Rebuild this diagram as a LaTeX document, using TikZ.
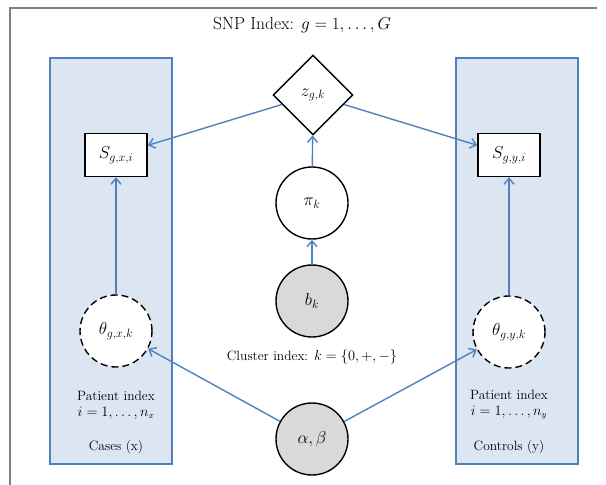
\documentclass[tikz,border=0pt]{standalone}
\usetikzlibrary{shapes.geometric,arrows.meta}
\definecolor{plateblue}{RGB}{220,230,242}
\definecolor{lineblue}{RGB}{79,129,189}
\definecolor{nodegray}{RGB}{217,217,217}
\definecolor{framegray}{RGB}{128,128,128}
\begin{document}
\begin{tikzpicture}[x=1pt,y=-1pt,
  plate/.style={draw=lineblue,fill=plateblue,line width=1.6pt},
  varcirc/.style={circle,draw=black,line width=1.4pt,minimum size=72pt,inner sep=0pt,font=\fontsize{18}{20}\selectfont},
  obsbox/.style={rectangle,draw=black,line width=1.4pt,fill=white,minimum width=62pt,minimum height=43pt,inner sep=0pt,font=\fontsize{18}{20}\selectfont},
  link/.style={draw=lineblue,line width=1.4pt,-{Straight Barb[length=6pt,width=10pt]}},
  lbl/.style={font=\fontsize{13.5}{16}\selectfont,align=center}]
\useasboundingbox (0,0) rectangle (606,485);
\draw[framegray,line width=1.5pt] (10,485) -- (10,8) -- (597,8);
\node[font=\fontsize{17.5}{20}\selectfont] (title) at (302,25) {SNP Index: $g=1,\ldots,G$};
\filldraw[plate] (50,58) rectangle (172,464);
\filldraw[plate] (456,58) rectangle (578,464);
\node[diamond,draw=black,line width=1.4pt,fill=white,minimum width=80pt,minimum height=80pt,inner sep=0pt,font=\fontsize{18}{20}\selectfont] (z) at (313,95) {$z_{g,k}$};
\node[obsbox] (sx) at (116,155) {$S_{g,x,i}$};
\node[obsbox] (sy) at (509,155) {$S_{g,y,i}$};
\node[varcirc,fill=white] (pi) at (312,203) {$\pi_k$};
\node[varcirc,fill=nodegray] (b) at (312,301) {$b_k$};
\node[lbl] (clu) at (312,357) {Cluster index: $k=\{0,+,-\}$};
\node[varcirc,fill=white,dash pattern=on 7pt off 4pt] (tx) at (116,331) {$\theta_{g,x,k}$};
\node[varcirc,fill=white,dash pattern=on 7pt off 4pt] (ty) at (509,332) {$\theta_{g,y,k}$};
\node[varcirc,fill=nodegray] (ab) at (312,439) {$\alpha,\beta$};
\node[lbl] (px) at (116,405) {Patient index\\$i=1,\ldots,n_x$};
\node[lbl] (cx) at (116,447) {Cases (x)};
\node[lbl] (py) at (509,405) {Patient index\\$i=1,\ldots,n_y$};
\node[lbl] (cy) at (509,447) {Controls (y)};
\draw[link] (z) -- (sx);
\draw[link] (z) -- (sy);
\draw[link] (pi) -- (z);
\draw[link] (b) -- (pi);
\draw[link] (tx) -- (sx);
\draw[link] (ty) -- (sy);
\draw[link] (ab) -- (tx);
\draw[link] (ab) -- (ty);
\end{tikzpicture}
\end{document}
